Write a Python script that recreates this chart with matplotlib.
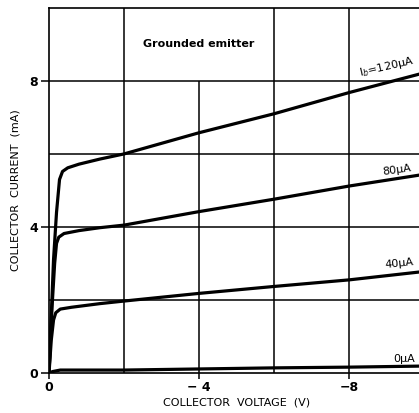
import matplotlib.pyplot as plt

# Collector characteristics, grounded emitter
vce_120 = [0, -0.05, -0.12, -0.2, -0.28, -0.36, -0.5, -0.8, -1.36, -2, -4, -6, -8, -10]
ic_120 = [0, 1.3, 3.1, 4.4, 5.3, 5.52, 5.62, 5.72, 5.86, 6.0, 6.58, 7.1, 7.68, 8.22]

vce_80 = [0, -0.08, -0.15, -0.2, -0.26, -0.4, -0.8, -1.36, -2, -4, -6, -8, -10]
ic_80 = [0, 1.8, 3.0, 3.55, 3.72, 3.82, 3.9, 3.98, 4.05, 4.42, 4.76, 5.12, 5.44]

vce_40 = [0, -0.06, -0.12, -0.18, -0.3, -0.6, -1.36, -2, -4, -6, -8, -10]
ic_40 = [0, 0.9, 1.45, 1.65, 1.75, 1.8, 1.9, 1.97, 2.18, 2.37, 2.55, 2.78]

vce_0 = [0, -0.1, -0.3, -1, -2, -4, -6, -8, -10]
ic_0 = [0, 0.04, 0.08, 0.08, 0.08, 0.11, 0.14, 0.16, 0.19]

xticks = [0, -4, -8]
xtick_labels = ["0", "\u2212 4", "\u22128"]
yticks = [0, 4, 8]
ytick_labels = ["0", "4", "8"]

fig = plt.figure(figsize=(4.19, 4.13), dpi=100)
ax = fig.add_axes([0.117, 0.0969, 0.895, 0.884])

# hand-drawn style grid; the -4 V line stops under the title box
for y in [2, 4, 6, 8]:
    ax.hlines(y, 0, -10, color='black', lw=1.1, zorder=1)
for x in [-2, -6, -8]:
    ax.vlines(x, 0, 10, color='black', lw=1.1, zorder=1)
ax.vlines(-4, 0, 8, color='black', lw=1.1, zorder=1)

for v, i in [(vce_120, ic_120), (vce_80, ic_80), (vce_40, ic_40), (vce_0, ic_0)]:
    ax.plot(v, i, color='black', lw=2.3, solid_joinstyle='round', solid_capstyle='round', zorder=3)

ax.set_xlim(0, -10)
ax.set_ylim(0, 10)
ax.set_xticks(xticks)
ax.set_xticklabels(xtick_labels)
ax.set_yticks(yticks)
ax.set_yticklabels(ytick_labels)
ax.tick_params(axis='both', direction='out', width=1.1, labelsize=9, pad=2)
ax.tick_params(axis='y', length=6)
ax.tick_params(axis='x', length=4)
for lbl in ax.get_xticklabels() + ax.get_yticklabels():
    lbl.set_fontweight('bold')

for side in ['left', 'top', 'bottom']:
    ax.spines[side].set_linewidth(1.2)
ax.spines['right'].set_visible(False)

ax.set_xlabel("COLLECTOR  VOLTAGE  (V)", fontsize=8, labelpad=2)
ax.set_ylabel("COLLECTOR  CURRENT  (mA)", fontsize=8, labelpad=6)

ax.text(-4, 9.0, "Grounded emitter", fontsize=8, fontweight='bold', ha='center', va='center')

ax.text(-8.29, 8.12, "I$_b$=120\u03bcA", fontsize=8, rotation=13, rotation_mode='anchor',
        ha='left', va='baseline')
ax.text(-8.9, 5.42, "80\u03bcA", fontsize=8, rotation=8, rotation_mode='anchor',
        ha='left', va='baseline')
ax.text(-8.96, 2.88, "40\u03bcA", fontsize=8, rotation=6, rotation_mode='anchor',
        ha='left', va='baseline')
ax.text(-9.17, 0.31, "0\u03bcA", fontsize=8, ha='left', va='baseline')

fig.savefig("out.png", dpi=100)
